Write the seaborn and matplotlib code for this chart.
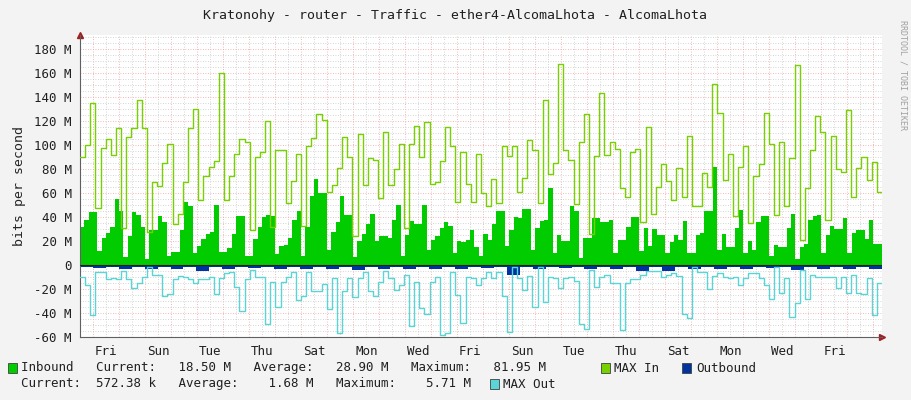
import numpy as np
import pandas as pd
import matplotlib
matplotlib.use('Agg')
import matplotlib.pyplot as plt
import seaborn as sns
from matplotlib.patches import Rectangle

# values in M bits/s (evenly spaced steps across the plot)
inbound = [32, 38, 44, 44, 12, 23, 27, 32, 55, 45, 7, 24, 44, 42, 32, 5, 29, 29, 41, 36,
           8, 11, 11, 29, 53, 49, 10, 16, 22, 26, 28, 50, 11, 11, 14, 26, 41, 41, 8, 8,
           22, 32, 40, 42, 41, 9, 16,
           17, 23, 38, 45, 8, 32, 58, 72, 60, 60, 13, 28, 36, 58, 42, 42, 7, 20, 26, 34,
           43, 20, 24, 24, 23, 38, 50, 8, 25, 37, 34, 34, 50, 13, 21, 24, 31, 36, 33, 10,
           20, 19, 21, 29, 15,
           8, 26, 21, 34, 45, 45, 16, 29, 40, 39, 47, 47, 13, 31, 37, 38, 64, 10, 25, 20,
           20, 49, 45, 6, 23, 23, 39, 39, 36, 36, 38, 10, 21, 21, 32, 40, 40, 12, 31, 16,
           30, 25, 25, 10, 19, 25, 21, 37, 10,
           10, 25, 27, 45, 45, 82, 13, 26, 15, 15, 31, 46, 10, 20, 13, 36, 41, 41, 8, 17,
           15, 15, 31, 43, 5, 15, 18, 38, 41, 42, 10, 25, 33, 30, 30, 39, 10, 27, 29, 29,
           22, 38, 18, 18]
max_in = [90, 100, 135, 48, 98, 105, 92, 114, 31, 107, 114, 138, 114, 28, 69, 66, 85, 101, 34, 43,
          69, 114, 130, 54, 74, 82, 87, 160, 54, 74, 93, 105, 103, 29, 90, 94, 120, 32, 96,
          96, 52, 70, 93, 33, 99, 106, 126, 121, 61, 67, 81, 107, 90, 24, 109, 67, 89, 88, 56,
          111, 67, 80, 101, 31, 101, 116, 90, 119, 68, 69, 87, 115, 99, 53, 94, 68, 53, 93, 60,
          49, 72, 52, 99, 91, 99, 61, 73, 104, 96, 52, 138, 76, 85, 168, 96, 88, 51, 103, 126,
          26, 91, 144, 92, 103, 97, 64, 57, 94, 97, 36, 115, 43, 65, 84, 70, 54, 81, 57, 108, 49,
          49, 77, 65, 151, 127, 71, 93, 41, 82, 99, 35, 74, 84, 127, 101, 42, 103, 49, 89, 167,
          21, 64, 96, 124, 111, 38, 108, 80, 78, 129, 57, 81, 90, 71, 86, 61]
outbound = [-2, -2.5, -1.5, -3, -1.5, -3, -1.5, -3, -2, -5, -1.5, -3, -1.5, -2.5, -1.5, -3,
            -1.5, -3, -1.5, -3, -2, -4, -1.5, -3.5, -1.5, -3, -1.5, -3, -2, -3, -1.5, -2.5,
            -1.5, -8, -1.5, -3, -1.5, -2.5, -1.5, -3, -1.5, -3, -1.5, -5, -1.5, -5, -1.5, -3,
            -1.5, -3, -1.5, -3, -1.5, -2.5, -2, -4, -1.5, -3, -1.5, -3, -1.5, -3]
max_out = [-10, -17, -42, -6, -6, -12, -11, -12, -5, -12, -19, -15, -10, -2, -8, -8, -26, -24, -12,
           -9, -10, -12, -15, -12, -12, -10, -24, -11, -7, -6, -18, -38, -12, -4, -10, -10, -49,
           -14, -35, -14,
           -10, -6, -29, -26, -6, -22, -22, -16, -37, -11, -57, -22, -11, -27, -11, -6, -22, -26,
           -14, -5, -11, -21, -17, -8, -51, -14, -36, -41, -14, -10, -58, -57, -6, -25, -48, -10,
           -11, -17, -11, -6,
           -11, -6, -26, -56, -2, -11, -21, -9, -35, -2, -31, -10, -11, -19, -11, -10, -13, -49,
           -53, -4, -18, -10, -8, -15, -15, -54, -15, -12, -12, -8, -5, -5, -5, -10, -8, -7, -9,
           -41, -44, -2,
           -6, -6, -20, -9, -7, -10, -11, -10, -17, -11, -7, -7, -11, -17, -28, -2, -23, -11, -43,
           -32, -4, -28, -8, -10, -10, -10, -10, -19, -10, -23, -8, -23, -24, -11, -42, -15]
day_labels = ['Fri', 'Sun', 'Tue', 'Thu', 'Sat', 'Mon', 'Wed', 'Fri', 'Sun', 'Tue',
              'Thu', 'Sat', 'Mon', 'Wed', 'Fri']
y_ticks = [-60, -40, -20, 0, 20, 40, 60, 80, 100, 120, 140, 160, 180]

X0, X1 = -0.51, 30.33  # plot range in days


def frame(vals):
    n = len(vals)
    x = np.linspace(X0, X1, n + 1)
    v = list(vals) + [vals[-1]]
    return pd.DataFrame({'t': x, 'v': v})


sns.set_style('white')
plt.rcParams['font.family'] = ['DejaVu Sans Mono']
mono = 'DejaVu Sans Mono'

fig = plt.figure(figsize=(9.11, 4.0), dpi=100, facecolor='#F3F3F3')
ax = fig.add_axes([80 / 911, 63 / 400, 802 / 911, 302 / 400])
ax.set_facecolor('white')

# grid
for d in np.arange(0, 31):
    ax.axvline(d, color='#F0A0A0', lw=0.6, ls=(0, (1, 2)), zorder=1)
    ax.axvline(d + 0.5, color='#C8C8C8', lw=0.6, ls=(0, (1, 2)), zorder=1)
for yv in range(-60, 195, 5):
    if yv % 20 == 0:
        ax.axhline(yv, color='#F0A0A0', lw=0.6, ls=(0, (1, 2)), zorder=1)
    else:
        ax.axhline(yv, color='#C8C8C8', lw=0.6, ls=(0, (1, 2)), zorder=1)

df_in = frame(inbound)
df_out = frame(outbound)
ax.fill_between(df_in['t'], 0, df_in['v'], step='post', color='#00CC00', lw=0, zorder=2)
ax.fill_between(df_out['t'], 0, df_out['v'], step='post', color='#0033A0', lw=0, zorder=2)
sns.lineplot(data=frame(max_in), x='t', y='v', drawstyle='steps-post', color='#77D000',
             lw=1.0, ax=ax, zorder=3)
sns.lineplot(data=frame(max_out), x='t', y='v', drawstyle='steps-post', color='#5AD4D4',
             lw=1.0, ax=ax, zorder=3)
ax.axhline(0, color='#202020', lw=0.8, zorder=4)

ax.set_xlim(X0, X1)
ax.set_ylim(-60, 192)
ax.set_xticks([k + 0.5 for k in range(0, 30, 2)])
ax.set_xticklabels(day_labels)
ax.set_yticks(y_ticks)
ax.set_yticklabels([f'{v} M' if v else '0' for v in y_ticks])
ax.tick_params(length=0, labelsize=9, pad=6, colors='#202020')
ax.set_xlabel('')
ax.set_ylabel('bits per second', fontsize=9.5, labelpad=6)
for s in ['top', 'right']:
    ax.spines[s].set_visible(False)
ax.spines['left'].set_color('#606060')
ax.spines['bottom'].set_color('#606060')
ax.plot([1.0], [0], marker='>', color='#A02020', ms=4, transform=ax.transAxes, clip_on=False)
ax.plot([0], [1.0], marker='^', color='#A02020', ms=4, transform=ax.transAxes, clip_on=False)

fig.text(455 / 911, 1 - 15 / 400, 'Kratonohy - router - Traffic - ether4-AlcomaLhota - AlcomaLhota',
         ha='center', va='center', fontsize=9.5, color='#202020')
fig.text(903 / 911, 1 - 75 / 400, 'RRDTOOL / TOBI OETIKER', rotation=270, ha='center',
         va='center', fontsize=6, color='#A0A0A0')


def box(x, y, c):
    fig.patches.append(Rectangle((x / 911, 1 - (y + 5) / 400), 9 / 911, 10 / 400,
                                 facecolor=c, edgecolor='#404040', lw=0.6,
                                 transform=fig.transFigure, figure=fig))


def txt(x, y, s):
    fig.text(x / 911, 1 - y / 400, s, ha='left', va='center', fontsize=9, color='#202020')


box(8, 368, '#00CC00')
txt(21, 368, 'Inbound   Current:   18.50 M   Average:   28.90 M   Maximum:   81.95 M')
box(601, 368, '#77D000')
txt(614, 368, 'MAX In')
box(682, 368, '#0033A0')
txt(696, 368, 'Outbound')
txt(21, 384, 'Current:  572.38 k   Average:    1.68 M   Maximum:    5.71 M')
box(490, 384, '#5AD4D4')
txt(503, 384, 'MAX Out')

fig.savefig('out.png', dpi=100, facecolor=fig.get_facecolor())
